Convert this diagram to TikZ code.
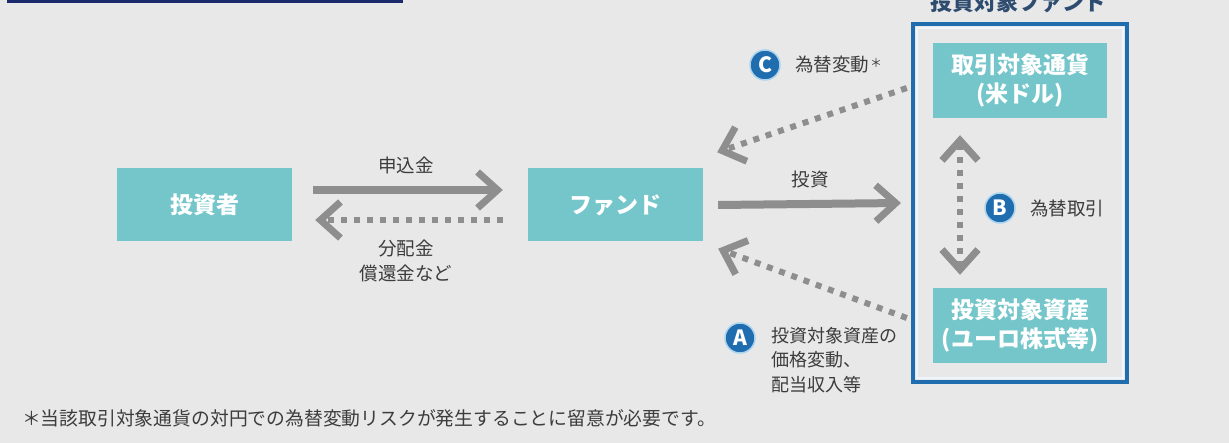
\documentclass[tikz,border=0pt]{standalone}
\usepackage{fontspec}
\setmainfont{Noto Sans CJK JP}
\usetikzlibrary{arrows.meta}
\definecolor{bg}{HTML}{E8E8E8}
\definecolor{tealbox}{HTML}{74C6CA}
\definecolor{fblue}{HTML}{1F6DAF}
\definecolor{ringblue}{HTML}{A9D3EE}
\definecolor{navy}{HTML}{1A2A6C}
\definecolor{agray}{HTML}{8E8E8E}
\definecolor{txt}{HTML}{3C3C3C}
\definecolor{ttl}{HTML}{2E4C70}
\begin{document}
\begin{tikzpicture}[x=1pt,y=-1pt,
  box/.style={fill=tealbox, text=white, font=\fontsize{23}{29}\selectfont\bfseries, align=center, inner sep=0pt, minimum width=175pt, minimum height=73pt},
  lbl/.style={text=txt, font=\fontsize{18.5}{25}\selectfont, inner sep=0pt, align=center},
  solidarrow/.style={draw=agray, line width=8pt, -{Straight Barb[length=20pt,width=36pt,line width=7pt]}},
  dotarrow/.style={draw=agray, line width=6pt, dash pattern=on 6pt off 7pt, -{Straight Barb[length=20pt,width=36pt,line width=7pt]}},
  dotboth/.style={draw=agray, line width=6pt, dash pattern=on 6pt off 7pt, {Straight Barb[length=20pt,width=36pt,line width=7pt]}-{Straight Barb[length=20pt,width=36pt,line width=7pt]}},
  badge/.style={circle, fill=fblue, draw=ringblue, line width=1.5pt, minimum size=30pt, inner sep=0pt, text=white, font=\fontsize{21}{21}\selectfont\bfseries}]
\fill[bg] (0,0) rectangle (1229,443);
\useasboundingbox (0,0) rectangle (1229,443);
% header bar remnant
\fill[navy] (7,-6) rectangle (403,3);
% frame of target fund
\node[draw=fblue, line width=4pt, minimum width=214pt, minimum height=358pt, inner sep=0pt] (frame) at (1020,203) {};
\draw[white!80!ringblue, line width=1.2pt] (917,28) rectangle (1123,378);
\node[text=ttl, font=\fontsize{22}{22}\selectfont\bfseries, anchor=base, inner sep=0pt] (title) at (1018,11) {投資対象ファンド};
% boxes
\node[box] (investor) at (204.5,205) {投資者};
\node[box] (fund) at (615.5,205) {ファンド};
\node[box, minimum width=174pt, minimum height=75pt] (cur) at (1020,80.5) {取引対象通貨\\(米ドル)};
\node[box, minimum width=174pt, minimum height=75pt] (asset) at (1020,325.5) {投資対象資産\\(ユーロ株式等)};
% arrows
\draw[solidarrow] ([xshift=21pt,yshift=15pt]investor.east) -- ([xshift=-25pt,yshift=15pt]fund.west);
\draw[dotarrow] ([xshift=-25pt,yshift=-15pt]fund.west) -- ([xshift=23pt,yshift=-15pt]investor.east);
\draw[solidarrow] ([xshift=15pt]fund.east) -- ([xshift=-10pt]frame.west);
\draw[dotarrow] ([xshift=-26pt,yshift=-7.5pt]cur.west) -- ([xshift=14pt,yshift=16pt]fund.north east);
\draw[dotarrow] ([xshift=-26pt,yshift=7.5pt]asset.west) -- ([xshift=15pt,yshift=-7pt]fund.south east);
\draw[dotboth] ([xshift=-60pt,yshift=-17pt]cur.south) -- ([xshift=-60pt,yshift=13pt]asset.north);
% labels
\node[lbl] (l1) at (406,165) {申込金};
\node[lbl] (l2) at (406,261) {分配金\\償還金など};
\node[lbl] (l3) at (810,180) {投資};
\node[badge] (bc) at (765,65) {C};
\node[lbl, anchor=west] (lc) at (795,65) {為替変動\kern1pt{\fontsize{12}{12}\selectfont\raisebox{4pt}{＊}}};
\node[badge] (bb) at (1000,208) {B};
\node[lbl, anchor=west] (lb) at (1030,208) {為替取引};
\node[badge] (ba) at (740,338) {A};
\node[lbl, anchor=north west, align=left, font=\fontsize{18}{24.5}\selectfont] (la) at (771,327) {投資対象資産の\\価格変動、\\配当収入等};
\node[lbl, anchor=west, font=\fontsize{18.8}{20}\selectfont] (foot) at (22,418) {＊当該取引対象通貨の対円での為替変動リスクが発生することに留意が必要です。};
\end{tikzpicture}
\end{document}
